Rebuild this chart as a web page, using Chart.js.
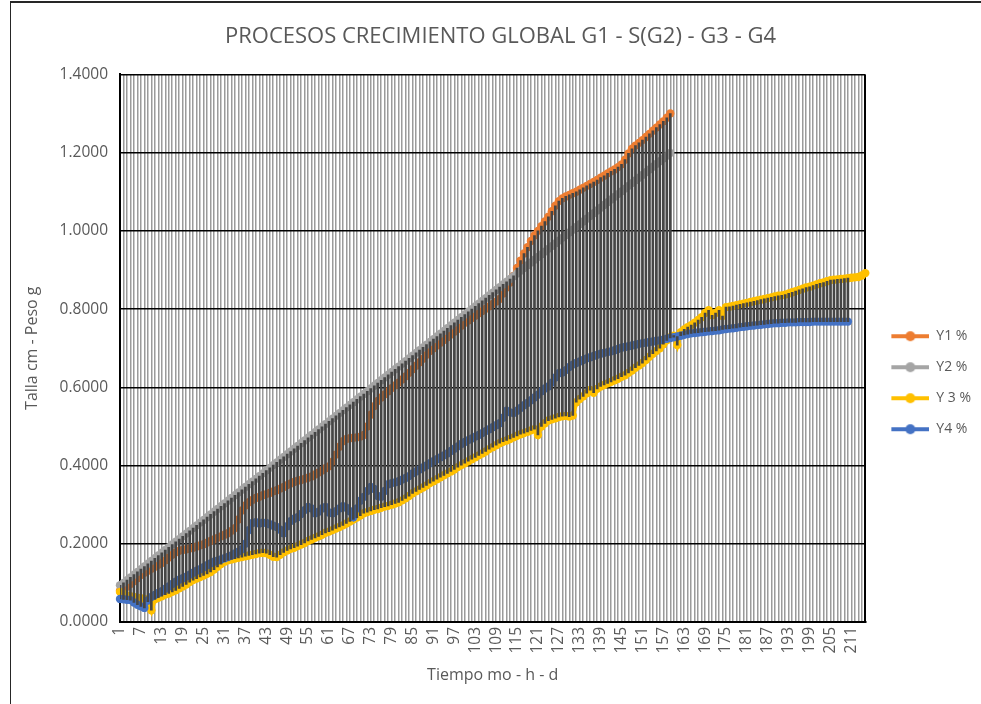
<!DOCTYPE html>
<html>
<head>
<meta charset="utf-8">
<title>Procesos crecimiento global</title>
<script src="https://cdn.jsdelivr.net/npm/chart.js@4.4.1/dist/chart.umd.min.js"></script>
<style>
  html, body { margin: 0; padding: 0; background: #fff; overflow: hidden; }
  #frame { position: absolute; left: 10px; top: 1px; width: 1200px; height: 900px;
           border-top: 2px solid #262626; border-left: 1px solid #262626; }
  #chart { position: absolute; left: 0; top: 0; }
</style>
</head>
<body>
<div id="frame"></div>
<canvas id="chart" width="981" height="704"></canvas>
<script>
// categorias 1..215 (tiempo)
const categories = Array.from({ length: 215 }, (_, i) => String(i + 1));

const y1 = [
  0.080, 0.085, 0.090, 0.097, 0.104, 0.112, 0.120, 0.126, 0.131, 0.136,
  0.141, 0.146, 0.151, 0.158, 0.165, 0.172, 0.178, 0.182, 0.184, 0.186,
  0.188, 0.190, 0.193, 0.196, 0.199, 0.203, 0.207, 0.211, 0.215, 0.219,
  0.223, 0.227, 0.233, 0.240, 0.262, 0.285, 0.298, 0.306, 0.312, 0.317,
  0.320, 0.324, 0.327, 0.330, 0.334, 0.337, 0.341, 0.345, 0.350, 0.354,
  0.358, 0.361, 0.363, 0.366, 0.369, 0.372, 0.377, 0.382, 0.387, 0.393,
  0.398, 0.410, 0.428, 0.448, 0.462, 0.468, 0.470, 0.471, 0.472, 0.474,
  0.478, 0.500, 0.530, 0.552, 0.565, 0.574, 0.582, 0.590, 0.598, 0.605,
  0.612, 0.620, 0.628, 0.637, 0.646, 0.655, 0.664, 0.673, 0.683, 0.693,
  0.700, 0.707, 0.714, 0.721, 0.728, 0.735, 0.742, 0.749, 0.757, 0.765,
  0.771, 0.777, 0.783, 0.789, 0.795, 0.801, 0.807, 0.813, 0.819, 0.826,
  0.840, 0.855, 0.868, 0.885, 0.905, 0.924, 0.942, 0.958, 0.974, 0.988,
  1.000, 1.012, 1.024, 1.036, 1.050, 1.064, 1.076, 1.083, 1.088, 1.092,
  1.096, 1.100, 1.105, 1.110, 1.115, 1.120, 1.125, 1.130, 1.136, 1.141,
  1.147, 1.152, 1.157, 1.163, 1.170, 1.182, 1.198, 1.210, 1.218, 1.225,
  1.232, 1.240, 1.248, 1.256, 1.264, 1.272, 1.280, 1.289, 1.300
];

const y2 = [
  0.094, 0.100, 0.107, 0.114, 0.121, 0.128, 0.135, 0.142, 0.149, 0.156,
  0.163, 0.170, 0.177, 0.184, 0.191, 0.198, 0.205, 0.212, 0.219, 0.226,
  0.233, 0.240, 0.247, 0.254, 0.261, 0.268, 0.275, 0.282, 0.289, 0.296,
  0.303, 0.310, 0.317, 0.324, 0.331, 0.338, 0.345, 0.352, 0.359, 0.366,
  0.373, 0.380, 0.387, 0.394, 0.401, 0.408, 0.415, 0.422, 0.429, 0.436,
  0.443, 0.450, 0.457, 0.464, 0.471, 0.478, 0.485, 0.492, 0.499, 0.506,
  0.513, 0.520, 0.527, 0.534, 0.541, 0.548, 0.555, 0.562, 0.569, 0.576,
  0.583, 0.590, 0.597, 0.604, 0.611, 0.618, 0.625, 0.632, 0.639, 0.646,
  0.653, 0.660, 0.667, 0.674, 0.681, 0.688, 0.695, 0.702, 0.709, 0.716,
  0.723, 0.730, 0.737, 0.744, 0.751, 0.758, 0.765, 0.772, 0.779, 0.786,
  0.793, 0.800, 0.807, 0.814, 0.821, 0.828, 0.835, 0.842, 0.849, 0.856,
  0.863, 0.870, 0.877, 0.884, 0.891, 0.898, 0.905, 0.912, 0.919, 0.926,
  0.933, 0.940, 0.947, 0.954, 0.961, 0.968, 0.975, 0.982, 0.989, 0.996,
  1.003, 1.010, 1.017, 1.024, 1.031, 1.038, 1.045, 1.052, 1.059, 1.066,
  1.073, 1.080, 1.087, 1.094, 1.101, 1.108, 1.115, 1.122, 1.129, 1.136,
  1.143, 1.150, 1.157, 1.164, 1.171, 1.178, 1.185, 1.192, 1.199
];

const y3 = [
  0.077, 0.072, 0.068, 0.066, 0.064, 0.062, 0.061, 0.059, 0.052, 0.030,
  0.058, 0.062, 0.066, 0.070, 0.073, 0.077, 0.081, 0.086, 0.091, 0.096,
  0.102, 0.107, 0.111, 0.115, 0.119, 0.123, 0.128, 0.134, 0.141, 0.148,
  0.154, 0.158, 0.160, 0.162, 0.164, 0.166, 0.168, 0.170, 0.172, 0.174,
  0.176, 0.177, 0.176, 0.172, 0.167, 0.166, 0.172, 0.178, 0.183, 0.187,
  0.190, 0.194, 0.198, 0.202, 0.207, 0.211, 0.215, 0.219, 0.223, 0.228,
  0.231, 0.235, 0.239, 0.243, 0.247, 0.252, 0.257, 0.262, 0.267, 0.272,
  0.278, 0.281, 0.284, 0.287, 0.289, 0.292, 0.295, 0.297, 0.300, 0.303,
  0.306, 0.311, 0.316, 0.322, 0.329, 0.334, 0.339, 0.344, 0.349, 0.355,
  0.360, 0.365, 0.370, 0.375, 0.380, 0.385, 0.390, 0.396, 0.401, 0.406,
  0.411, 0.416, 0.421, 0.426, 0.431, 0.436, 0.442, 0.447, 0.452, 0.457,
  0.461, 0.464, 0.468, 0.472, 0.476, 0.480, 0.483, 0.486, 0.490, 0.493,
  0.478, 0.500, 0.508, 0.515, 0.518, 0.521, 0.524, 0.526, 0.527, 0.525,
  0.528, 0.562, 0.570, 0.577, 0.585, 0.593, 0.586, 0.596, 0.602, 0.606,
  0.610, 0.614, 0.618, 0.622, 0.627, 0.631, 0.637, 0.643, 0.650, 0.656,
  0.662, 0.670, 0.678, 0.686, 0.693, 0.700, 0.710, 0.720, 0.728, 0.732,
  0.708, 0.741, 0.748, 0.754, 0.759, 0.765, 0.772, 0.779, 0.790, 0.797,
  0.784, 0.790, 0.797, 0.782, 0.805, 0.806, 0.808, 0.810, 0.812, 0.814,
  0.816, 0.818, 0.820, 0.822, 0.824, 0.826, 0.828, 0.830, 0.832, 0.834,
  0.835, 0.837, 0.840, 0.843, 0.846, 0.849, 0.852, 0.855, 0.857, 0.860,
  0.863, 0.866, 0.868, 0.871, 0.874, 0.875, 0.876, 0.877, 0.878, 0.879,
  0.880, 0.881, 0.882, 0.886, 0.892
];

const y4 = [
  0.059, 0.058, 0.057, 0.056, 0.050, 0.044, 0.040, 0.036, 0.055, 0.064,
  0.069, 0.074, 0.079, 0.085, 0.091, 0.097, 0.103, 0.108, 0.112, 0.116,
  0.121, 0.126, 0.131, 0.135, 0.140, 0.145, 0.150, 0.154, 0.157, 0.160,
  0.163, 0.166, 0.170, 0.175, 0.180, 0.186, 0.200, 0.235, 0.253, 0.255,
  0.252, 0.254, 0.253, 0.250, 0.246, 0.243, 0.236, 0.227, 0.245, 0.258,
  0.264, 0.268, 0.276, 0.286, 0.294, 0.290, 0.278, 0.282, 0.290, 0.294,
  0.280, 0.278, 0.283, 0.290, 0.296, 0.292, 0.283, 0.268, 0.290, 0.310,
  0.320, 0.335, 0.345, 0.340, 0.322, 0.320, 0.335, 0.352, 0.355, 0.357,
  0.360, 0.364, 0.368, 0.373, 0.380, 0.385, 0.390, 0.395, 0.400, 0.406,
  0.411, 0.416, 0.421, 0.426, 0.431, 0.437, 0.443, 0.449, 0.455, 0.460,
  0.465, 0.469, 0.474, 0.478, 0.483, 0.488, 0.493, 0.498, 0.503, 0.508,
  0.522, 0.540, 0.536, 0.534, 0.540, 0.547, 0.554, 0.560, 0.567, 0.574,
  0.581, 0.590, 0.597, 0.602, 0.612, 0.625, 0.636, 0.638, 0.644, 0.652,
  0.658, 0.662, 0.666, 0.670, 0.674, 0.677, 0.680, 0.683, 0.686, 0.688,
  0.690, 0.692, 0.695, 0.698, 0.701, 0.703, 0.705, 0.707, 0.709, 0.711,
  0.713, 0.714, 0.716, 0.717, 0.719, 0.720, 0.722, 0.724, 0.726, 0.728,
  0.730, 0.732, 0.734, 0.736, 0.738, 0.739, 0.740, 0.741, 0.742, 0.743,
  0.744, 0.745, 0.746, 0.748, 0.749, 0.750, 0.751, 0.752, 0.754, 0.755,
  0.756, 0.757, 0.758, 0.759, 0.760, 0.761, 0.762, 0.763, 0.764, 0.764,
  0.765, 0.765, 0.766, 0.766, 0.766, 0.767, 0.767, 0.767, 0.767, 0.768,
  0.768, 0.768, 0.768, 0.768, 0.768, 0.768, 0.768, 0.768, 0.768, 0.768
];

const seriesNames = ['Y1 %', 'Y2 %', 'Y 3 %', 'Y4 %'];
const seriesColors = ['#ED7D31', '#A5A5A5', '#FFC000', '#4472C4'];
const series = [y1, y2, y3, y4];

const textColor = '#595959';
const baseFont = 'Open Sans';

// lineas max-min (high-low) por categoria
const highLow = categories.map((_, i) => {
  const vals = series.map(s => s[i]).filter(v => v !== undefined);
  if (vals.length < 2) return null;
  return [Math.min(...vals), Math.max(...vals)];
});

// muestra de leyenda: linea con marcador
function legendSample(color) {
  const c = document.createElement('canvas');
  c.width = 47; c.height = 12;
  const g = c.getContext('2d');
  g.strokeStyle = color; g.lineWidth = 4;
  g.beginPath(); g.moveTo(9, 6); g.lineTo(47, 6); g.stroke();
  g.fillStyle = color;
  g.beginPath(); g.arc(28, 6, 5, 0, Math.PI * 2); g.fill();
  return c;
}
const samples = seriesColors.map(legendSample);

const lineSets = series.map((s, i) => ({
  label: seriesNames[i],
  data: s,
  borderColor: seriesColors[i],
  backgroundColor: seriesColors[i],
  borderWidth: 4.5,
  pointRadius: 4.2,
  pointHoverRadius: 4.2,
  pointBorderWidth: 0,
  tension: 0,
  fill: false,
  clip: false,
  order: 4 - i
}));

new Chart(document.getElementById('chart'), {
  type: 'line',
  data: {
    labels: categories,
    datasets: [
      ...lineSets,
      {
        type: 'bar',
        label: 'high-low',
        data: highLow,
        backgroundColor: '#454545',
        barThickness: 2,
        order: 0
      }
    ]
  },
  options: {
    responsive: false,
    animation: false,
    layout: { padding: { left: 20, right: 0, top: 0, bottom: 16 } },
    plugins: {
      title: {
        display: true,
        text: 'PROCESOS CRECIMIENTO GLOBAL G1 - S(G2) - G3 - G4',
        color: textColor,
        font: { family: baseFont, size: 22, weight: 'normal' },
        padding: { top: 24, bottom: 24 }
      },
      legend: {
        position: 'right',
        title: { display: true, text: ' ', font: { size: 12 }, padding: { top: 30, bottom: 33 } },
        labels: {
          usePointStyle: true,
          pointStyleWidth: 47,
          padding: 17,
          color: textColor,
          font: { family: baseFont, size: 14 },
          generateLabels: (chart) => seriesNames.map((name, i) => ({
            text: name,
            pointStyle: samples[i],
            fillStyle: seriesColors[i],
            strokeStyle: seriesColors[i],
            lineWidth: 0,
            hidden: false,
            datasetIndex: i,
            fontColor: textColor
          }))
        }
      },
      tooltip: { enabled: false }
    },
    scales: {
      x: {
        offset: false,
        grid: {
          offset: false,
          drawTicks: false,
          color: (ctx) => ctx.index === categories.length - 1 ? '#000' : '#9a9a9a',
          lineWidth: (ctx) => ctx.index === categories.length - 1 ? 2 : 1.5
        },
        border: { color: '#000', width: 2 },
        ticks: {
          autoSkip: false,
          minRotation: 90,
          maxRotation: 90,
          padding: 5,
          color: textColor,
          font: { family: baseFont, size: 15.5 },
          callback: function (v, i) { return i % 6 === 0 ? this.getLabelForValue(v) : ''; }
        },
        title: {
          display: true,
          text: 'Tiempo mo - h - d',
          color: textColor,
          font: { family: baseFont, size: 16 },
          padding: { top: 4, bottom: 3 }
        },
        afterFit: (s) => { s.height = 66; }
      },
      y: {
        min: 0,
        max: 1.4,
        ticks: {
          stepSize: 0.2,
          padding: 12,
          color: textColor,
          font: { family: baseFont, size: 15.5 },
          callback: (v) => v.toFixed(4)
        },
        grid: { color: '#000', lineWidth: 1.5, drawTicks: false },
        border: { color: '#000', width: 2 },
        title: {
          display: true,
          text: 'Talla cm - Peso g',
          color: textColor,
          font: { family: baseFont, size: 16 },
          padding: { top: 3, bottom: 3 }
        },
        afterFit: (s) => { s.width = 100; }
      }
    }
  }
});
</script>
</body>
</html>
